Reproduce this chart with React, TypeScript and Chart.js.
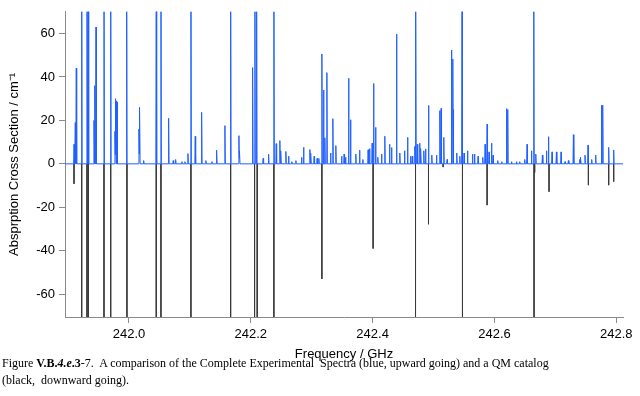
import React, { useEffect, useRef } from 'react';
import { Chart, registerables } from 'chart.js';

Chart.register(...registerables);

const X_MIN = 241.895;
const X_MAX = 242.811;
const Y_MIN = -70.5;
const Y_MAX = 70;
const X_TICKS = [242.0, 242.2, 242.4, 242.6, 242.8];
const Y_TICKS = [-60, -40, -20, 0, 20, 40, 60];

// Experimental spectrum (blue, upward): peak frequencies (GHz) and heights (cm^-1)
const EXP_FREQ = [
  241.9098, 241.9119, 241.9135, 241.9224, 241.9311, 241.9332, 241.9426, 241.9442, 241.9459, 241.959,
  241.97, 241.977, 241.9782, 241.9798, 241.9808, 241.9962, 242.0164, 242.0176, 242.0241, 242.0448,
  242.0525, 242.0651, 242.0727, 242.0766, 242.087, 242.0919, 242.0968, 242.1017, 242.1088, 242.1193,
  242.1263, 242.1362, 242.1439, 242.1575, 242.1669, 242.1805, 242.1816, 242.203, 242.2067, 242.2095,
  242.2203, 242.2292, 242.2379, 242.2417, 242.2477, 242.2494, 242.2576, 242.262, 242.2674, 242.274,
  242.2833, 242.2866, 242.297, 242.2986, 242.304, 242.3089, 242.3117, 242.3167, 242.3194, 242.3216,
  242.3249, 242.3309, 242.3347, 242.3396, 242.349, 242.3532, 242.3555, 242.3605, 242.3637, 242.3724,
  242.3785, 242.3839, 242.3926, 242.3949, 242.3992, 242.4015, 242.4048, 242.4085, 242.4146, 242.42,
  242.4277, 242.431, 242.4392, 242.4446, 242.4523, 242.4573, 242.4622, 242.4651, 242.4692, 242.4709,
  242.4733, 242.4774, 242.4791, 242.484, 242.4868, 242.4917, 242.4971, 242.5048, 242.5103, 242.5124,
  242.5168, 242.5222, 242.5294, 242.5316, 242.5327, 242.5381, 242.5431, 242.5468, 242.5501, 242.5557,
  242.5639, 242.5672, 242.5731, 242.5808, 242.5846, 242.5879, 242.5911, 242.5951, 242.5977, 242.6054,
  242.612, 242.6197, 242.6218, 242.6279, 242.6361, 242.6415, 242.6497, 242.6535, 242.6607, 242.6645,
  242.6678, 242.6787, 242.6853, 242.6886, 242.6945, 242.7017, 242.7093, 242.7158, 242.7214, 242.7296,
  242.74, 242.7416, 242.7486, 242.7536, 242.7596, 242.7662, 242.7756, 242.7777, 242.7875, 242.7957,
];
const EXP_INT = [
  9, 19, 44, 100, 100, 100, 20, 36, 63, 100,
  100, 15, 30, 29, 28.5, 100, 16, 26, 1.5, 100,
  100, 21, 1.5, 2, 1, 1, 4.7, 100, 12.7, 23.7,
  1.5, 1, 6.3, 17.6, 100, 13, 6, 44.3, 100, 100,
  2.5, 4.5, 100, 9.3, 10.7, 6, 5.7, 3.5, 1, 1.5,
  3, 7.6, 6.6, 5, 3.5, 2.5, 2.5, 50.6, 34, 12,
  42, 5, 20.8, 8.4, 3.5, 4.5, 3, 39.4, 20.3, 4.5,
  6.3, 2, 6.5, 7, 9.5, 37, 16.8, 3, 4.5, 12.7,
  9, 7.5, 59.7, 5, 6, 12.2, 3.5, 3.5, 8, 100,
  9, 9.5, 7, 6, 6.9, 26.9, 4, 4, 24.5, 25.5,
  12.2, 2, 52.4, 48.3, 25, 5, 3.5, 100, 5, 6,
  4.5, 4.5, 3.5, 3, 9, 18.3, 5.5, 9.5, 4, 1.5,
  1, 25.4, 25, 1, 1, 1, 2, 9, 6, 100,
  4.5, 4, 6, 12.5, 5.5, 5.5, 5.5, 1, 1.5, 13.4,
  2, 3, 4, 8.6, 2, 4, 27, 27, 7.6, 6.4,
];

// QM catalog (black, downward): line frequencies (GHz) and intensities
const QM_FREQ = [
  241.9098, 241.9224, 241.9311, 241.9332, 241.959, 241.97, 241.9967, 242.0448, 242.0525, 242.1017,
  242.1669, 242.2062, 242.2105, 242.2379, 242.3167, 242.4008, 242.4704, 242.4917, 242.5157, 242.5475,
  242.5879, 242.665, 242.666, 242.6896, 242.7542, 242.7875, 242.7957,
];
const QM_INT = [
  9.2, 80, 80, 80, 80, 80, 80, 80, 80, 80,
  80, 80, 80, 80, 53, 39, 80, 27.8, 1.5, 80,
  19, 80, 4, 12.8, 9.8, 9.8, 8.2,
];

const PEAK_HALF_WIDTH = 0.0007;

function buildSpectrum() {
  const knots: number[] = [X_MIN, X_MAX];
  EXP_FREQ.forEach((f) => {
    knots.push(f - PEAK_HALF_WIDTH, f, f + PEAK_HALF_WIDTH);
  });
  knots.sort((a, b) => a - b);
  return knots.map((k) => {
    let y = 0;
    EXP_FREQ.forEach((f, i) => {
      const t = 1 - Math.abs(k - f) / PEAK_HALF_WIDTH;
      if (t > 0) y = Math.max(y, EXP_INT[i] * t);
    });
    return { x: k, y };
  });
}

function buildSticks() {
  const pts: { x: number; y: number | null }[] = [];
  QM_FREQ.forEach((f, i) => {
    pts.push({ x: f, y: 0 }, { x: f, y: -QM_INT[i] }, { x: f, y: null });
  });
  return pts;
}

const FONT = { family: 'Liberation Sans, Arial, sans-serif', size: 13 };
const AXIS_GRAY = '#8a8a8a';

export default function App() {
  const ref = useRef<HTMLCanvasElement | null>(null);

  useEffect(() => {
    if (!ref.current) return;
    const chart = new Chart(ref.current, {
      type: 'line',
      data: {
        datasets: [
          {
            data: buildSpectrum(),
            borderColor: '#2160ff',
            borderWidth: 1,
            pointRadius: 0,
            tension: 0,
            borderJoinStyle: 'round',
          },
          {
            data: buildSticks(),
            borderColor: '#3a3a3a',
            borderWidth: 1,
            pointRadius: 0,
            tension: 0,
            spanGaps: false,
          },
        ],
      },
      options: {
        responsive: false,
        animation: false,
        events: [],
        layout: { padding: { left: 0, right: 17, top: 10, bottom: 0 } },
        plugins: { legend: { display: false }, tooltip: { enabled: false } },
        scales: {
          x: {
            type: 'linear',
            min: X_MIN,
            max: X_MAX,
            afterBuildTicks: (s: any) => {
              s.ticks = X_TICKS.map((v) => ({ value: v }));
            },
            afterFit: (s: any) => {
              s.height = 364 - 317;
            },
            ticks: {
              callback: (v: any) => Number(v).toFixed(1),
              font: FONT,
              color: '#000',
              padding: 4,
              maxRotation: 0,
              autoSkip: false,
            },
            grid: { drawOnChartArea: false, drawTicks: true, tickLength: 6, color: AXIS_GRAY },
            border: { color: AXIS_GRAY, width: 1 },
            title: {
              display: true,
              text: 'Frequency / GHz',
              font: FONT,
              color: '#000',
              padding: { top: 0, bottom: 2 },
            },
          },
          y: {
            type: 'linear',
            min: Y_MIN,
            max: Y_MAX,
            afterBuildTicks: (s: any) => {
              s.ticks = Y_TICKS.map((v) => ({ value: v }));
            },
            afterFit: (s: any) => {
              s.width = 65;
            },
            ticks: {
              font: FONT,
              color: '#000',
              padding: 4,
              autoSkip: false,
            },
            grid: { drawOnChartArea: false, drawTicks: true, tickLength: 6, color: AXIS_GRAY },
            border: { color: AXIS_GRAY, width: 1 },
            title: {
              display: true,
              text: 'Absprption Cross Section / cm\u207B\u00B9',
              font: FONT,
              color: '#000',
              padding: { top: 7, bottom: 0 },
            },
          },
        },
      },
    });
    return () => chart.destroy();
  }, []);

  return (
    <div style={{ position: 'fixed', left: 0, top: 0, width: 640, height: 396, background: '#fff' }}>
      <canvas ref={ref} width={640} height={364} style={{ position: 'absolute', left: 0, top: 0 }} />
      <div
        style={{
          position: 'absolute',
          left: 2,
          top: 355,
          fontFamily: '"Liberation Serif", "Times New Roman", serif',
          fontSize: 12,
          lineHeight: '17px',
          color: '#000',
          whiteSpace: 'pre',
        }}
      >
        Figure <b>V.B.<i>4.e</i>.3</b>-7.  A comparison of the Complete Experimental  Spectra (blue, upward going) and a QM catalog
        <br />
        (black,  downward going).
      </div>
    </div>
  );
}
